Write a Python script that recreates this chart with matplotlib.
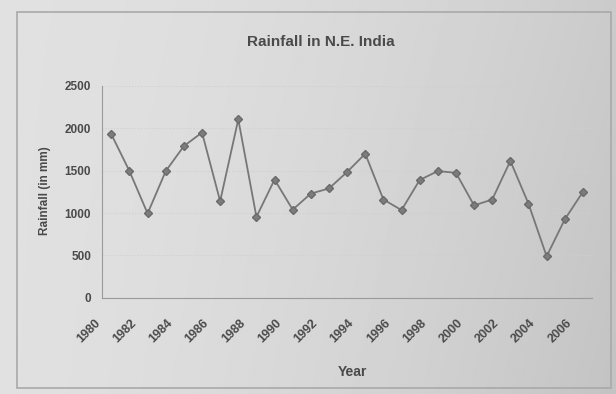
import numpy as np
import matplotlib.pyplot as plt
from matplotlib.patches import Rectangle

plt.rcParams['font.family'] = ['Liberation Sans', 'DejaVu Sans']

# annual rainfall, mm
years = list(range(1980, 2007))
rainfall = [1930, 1495, 995, 1495, 1790, 1950, 1140, 2105, 955, 1395,
            1040, 1230, 1290, 1485, 1700, 1160, 1035, 1390, 1495, 1475,
            1090, 1160, 1615, 1110, 490, 925, 1250]
y_ticks = [0, 500, 1000, 1500, 2000, 2500]

fig = plt.figure(figsize=(6.16, 3.94), dpi=100)

# grey page shading behind the chart
bg = fig.add_axes([0, 0, 1, 1], zorder=-5)
gx = np.linspace(0, 1, 300)
gy = np.linspace(0, 1, 200)
GX, GY = np.meshgrid(gx, gy)
shade = 0.88 - 0.085 * GX ** 1.8 - 0.03 * GY * GX
bg.imshow(shade, extent=[0, 1, 0, 1], aspect='auto', cmap='gray',
          vmin=0, vmax=1, origin='upper')
bg.set_xlim(0, 1)
bg.set_ylim(0, 1)
bg.axis('off')

# chart area border
fig.patches.append(Rectangle((0.027, 0.015), 0.965, 0.955, transform=fig.transFigure,
                             fill=False, edgecolor='#a9a9a9', linewidth=1.2))

ax = fig.add_axes([0.166, 0.244, 0.795, 0.538])
ax.patch.set_alpha(0)

x = np.arange(len(years))
ax.plot(x, rainfall, color='#777777', linewidth=1.3, marker='D',
        markersize=4.5, markerfacecolor='#7c7c7c', markeredgecolor='#6a6a6a')

ax.set_xlim(-0.5, len(years) - 0.5)
ax.set_ylim(0, 2500)
ax.set_yticks(y_ticks)
ax.set_yticklabels([str(v) for v in y_ticks], fontsize=8.5, fontweight='bold',
                   color='#4a4a4a')
ax.grid(axis='y', color='#cfcfcf', linewidth=0.8, linestyle=':')

# year labels every other year, slanted and set off below-left of each tick
tick_pos = x[::2]
ax.set_xticks(tick_pos)
ax.set_xticklabels([])
for xi, yr in zip(tick_pos, years[::2]):
    ax.annotate(str(yr), xy=(xi, 0), xycoords=('data', 'axes fraction'),
                xytext=(-13, -23), textcoords='offset pixels',
                rotation=45, rotation_mode='anchor', ha='right', va='center',
                fontsize=9, fontweight='bold', color='#4a4a4a')

ax.tick_params(axis='both', length=0, pad=8)
for side in ['top', 'right']:
    ax.spines[side].set_visible(False)
for side in ['left', 'bottom']:
    ax.spines[side].set_color('#9a9a9a')

fig.text(0.52, 0.893, 'Rainfall in N.E. India', ha='center', va='center',
         fontsize=11, fontweight='bold', color='#4a4a4a')
fig.text(0.073, 0.515, 'Rainfall (in mm)', ha='center', va='center',
         rotation=90, fontsize=8.5, fontweight='bold', color='#4a4a4a')
fig.text(0.572, 0.056, 'Year', ha='center', va='center',
         fontsize=10, fontweight='bold', color='#4a4a4a')

fig.savefig('out.png', dpi=100)
